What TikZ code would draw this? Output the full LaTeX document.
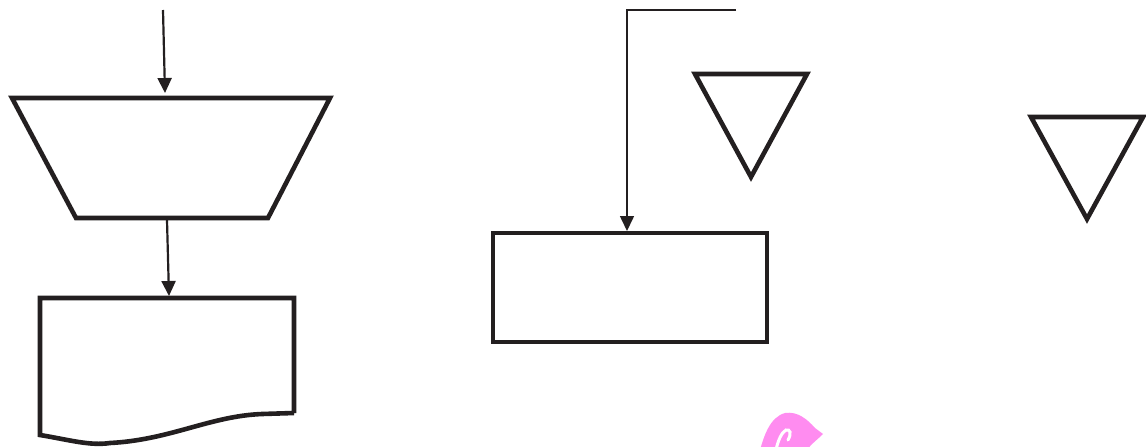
\documentclass[tikz,border=0pt]{standalone}
\usetikzlibrary{arrows.meta}
\definecolor{ink}{RGB}{35,31,32}
\definecolor{blobpink}{RGB}{255,140,240}
\tikzset{
  shapeline/.style={draw=ink, line width=4.6pt, line join=miter},
  flowarrow/.style={draw=ink, line width=2.2pt, -{Triangle[length=15pt,width=14pt]}},
  thinarrow/.style={draw=ink, line width=1.6pt, -{Triangle[length=15pt,width=14pt]}},
}
\begin{document}
\begin{tikzpicture}[x=1pt,y=-1pt]
\useasboundingbox (0,0) rectangle (1146,447);
% manual operation (trapezoid)
\draw[shapeline] (12,98) -- (330,98) -- (268,218) -- (76,218) -- cycle;
% document shape
\draw[shapeline] (294,413) -- (294,298) -- (40,298) -- (40,435)
  .. controls (70,440) and (90,446) .. (110,443)
  .. controls (170,440) and (210,416) .. (262,414) -- (294,413);
% process rectangle
\draw[shapeline] (493,233) rectangle (767,342);
% merge triangles
\draw[shapeline] (695,74) -- (807,74) -- (751,177) -- cycle;
\draw[shapeline] (1031,117) -- (1143,117) -- (1087,219) -- cycle;
% connector end points
\coordinate (inTop) at (163,10);
\coordinate (trapTop) at (165,93);
\coordinate (trapBot) at (167,220);
\coordinate (docTop) at (169,296);
\coordinate (lineStart) at (736,10);
\coordinate (corner) at (627,10);
\coordinate (rectTop) at (627,231);
\draw[flowarrow] (inTop) -- (trapTop);
\draw[flowarrow] (trapBot) -- (docTop);
\draw[thinarrow] (lineStart) -- (corner) -- (rectTop);
% pink mark
\fill[blobpink] (760,450) .. controls (764,436) and (770,417) .. (785,413)
  .. controls (798,411) and (808,420) .. (815,428)
  -- (823,434) .. controls (817,440) and (811,444) .. (807,450) -- cycle;
\draw[white, line width=3pt, line cap=round] (776,450) .. controls (778,440) and (782,432) .. (786,430)
  .. controls (790,429) and (792,433) .. (788,440);
\end{tikzpicture}
\end{document}
